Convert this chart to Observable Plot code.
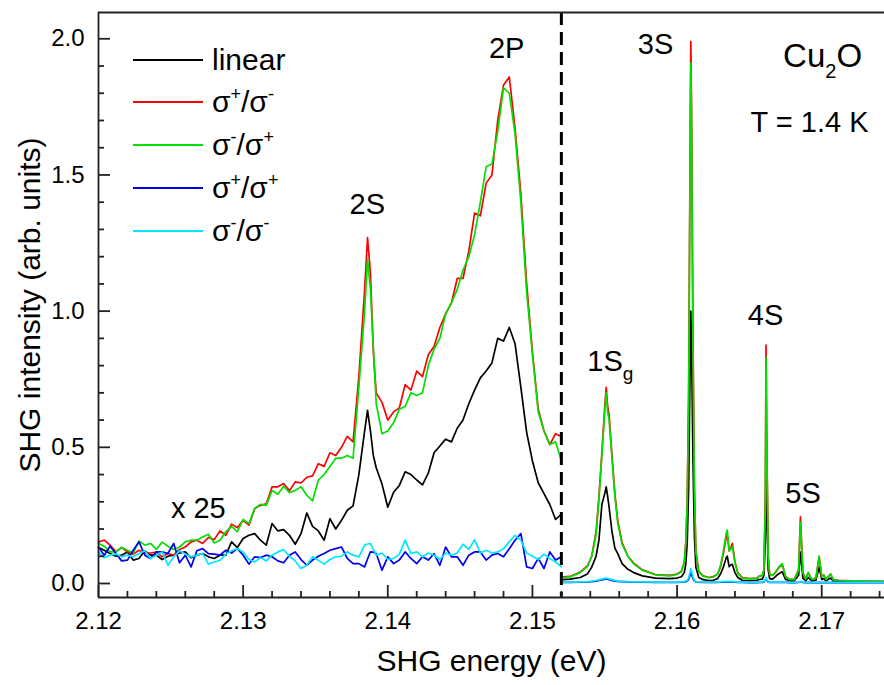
<!DOCTYPE html>
<html><head><meta charset="utf-8">
<script src="https://cdn.jsdelivr.net/npm/d3@7"></script>
<script src="https://cdn.jsdelivr.net/npm/@observablehq/plot@0.6"></script>
<style>
body{margin:0;background:#fff;}
#wrap{position:relative;width:884px;height:685px;font-family:"Liberation Sans",Arial,sans-serif;}
.row{position:absolute;left:133px;height:30px;width:200px;}
.row .ln{position:absolute;left:0;top:14px;width:70px;height:0;border-top:2px solid;}
.row .lb{position:absolute;left:79px;top:0;font-size:30px;line-height:30px;white-space:nowrap;color:#000;}
.row .sp{font-size:18px;position:relative;top:-12px;}
</style></head><body><div id="wrap"></div>
<script>
// ---- series definitions ----
const seriesNames = ["linear", "σ+/σ-", "σ-/σ+", "σ+/σ+", "σ-/σ-"];
const seriesColors = ["#000000", "#ff0000", "#00e000", "#0000ee", "#00e8ff"];

// ---- left part (x 25), energies in eV ----
const leftEnergy = [
 2.1200,2.1204,2.1208,2.1212,2.1216,2.1220,2.1224,2.1228,2.1232,2.1236,
 2.1240,2.1244,2.1248,2.1252,2.1256,2.1260,2.1264,2.1268,2.1272,2.1276,
 2.1280,2.1284,2.1288,2.1292,2.1296,2.1300,2.1304,2.1308,2.1312,2.1316,
 2.1320,2.1324,2.1328,2.1332,2.1336,2.1340,2.1344,2.1348,2.1352,2.1356,
 2.1360,2.1364,2.1368,2.1372,2.1376,2.1380,2.1384,
 2.1386,2.1388,2.1390,
 2.1392,2.1396,2.1400,2.1404,2.1408,2.1412,2.1416,2.1420,2.1424,2.1428,
 2.1432,2.1436,2.1440,2.1444,2.1448,2.1452,2.1456,2.1460,2.1464,2.1468,
 2.1472,2.1476,2.1480,2.1484,2.1488,2.1492,2.1496,2.1500,2.1504,2.1508,
 2.1512,2.1516,2.1520];
const leftLinear = [
 0.132,0.122,0.110,0.100,0.104,0.116,0.086,0.092,0.120,0.104,
 0.104,0.088,0.100,0.104,0.112,0.116,0.095,0.104,0.110,0.098,
 0.092,0.104,0.104,0.153,0.132,0.165,0.177,0.183,0.159,0.141,
 0.220,0.193,0.198,0.177,0.144,0.183,0.259,0.210,0.193,0.159,
 0.238,0.200,0.232,0.269,0.285,0.400,0.560,
 0.636,0.560,0.470,
 0.425,0.365,0.280,0.335,0.360,0.410,0.400,0.380,0.362,0.405,
 0.480,0.505,0.530,0.520,0.570,0.600,0.660,0.710,0.755,0.780,
 0.810,0.900,0.890,0.940,0.880,0.720,0.555,0.450,0.370,0.330,
 0.290,0.235,0.255];
const leftSpSm = [
 0.153,0.159,0.141,0.116,0.132,0.116,0.108,0.122,0.112,0.112,
 0.115,0.098,0.110,0.104,0.125,0.134,0.153,0.159,0.147,0.169,
 0.161,0.193,0.177,0.218,0.205,0.232,0.214,0.275,0.287,0.293,
 0.355,0.355,0.367,0.340,0.373,0.369,0.390,0.395,0.440,0.430,
 0.480,0.470,0.500,0.540,0.520,0.760,1.080,
 1.270,1.140,0.850,
 0.700,0.665,0.600,0.630,0.645,0.730,0.710,0.780,0.760,0.840,
 0.870,0.940,0.990,1.030,1.120,1.120,1.220,1.360,1.350,1.470,
 1.500,1.700,1.830,1.860,1.670,1.430,1.100,0.850,0.640,0.560,
 0.510,0.550,0.540];
const leftSmSp = [
 0.147,0.137,0.116,0.116,0.132,0.122,0.112,0.156,0.141,0.147,
 0.125,0.152,0.137,0.125,0.134,0.153,0.159,0.159,0.171,0.181,
 0.149,0.159,0.190,0.210,0.190,0.235,0.220,0.275,0.291,0.287,
 0.342,0.328,0.357,0.333,0.342,0.355,0.324,0.303,0.380,0.400,
 0.430,0.460,0.460,0.470,0.460,0.720,1.000,
 1.190,1.080,0.870,
 0.660,0.550,0.560,0.590,0.640,0.650,0.700,0.690,0.700,0.800,
 0.860,0.900,0.990,1.030,1.080,1.150,1.200,1.280,1.400,1.530,
 1.540,1.660,1.820,1.800,1.650,1.400,1.070,0.840,0.630,0.560,
 0.510,0.520,0.450];
const leftSpSp = [
 0.134,0.104,0.137,0.110,0.083,0.086,0.122,0.153,0.104,0.092,
 0.116,0.116,0.110,0.147,0.076,0.104,0.061,0.120,0.128,0.110,
 0.108,0.104,0.122,0.112,0.128,0.104,0.071,0.098,0.095,0.104,
 0.098,0.083,0.076,0.104,0.116,0.088,0.067,0.086,0.100,0.110,
 0.122,0.128,0.134,0.092,0.073,0.073,0.061,
 0.090,0.116,0.115,
 0.110,0.049,0.098,0.073,0.086,0.116,0.092,0.073,0.098,0.086,
 0.110,0.067,0.134,0.098,0.098,0.067,0.104,0.116,0.116,0.086,
 0.104,0.110,0.098,0.128,0.159,0.183,0.061,0.055,0.092,0.055,
 0.116,0.086,0.098];
const leftSmSm = [
 0.116,0.095,0.104,0.108,0.098,0.104,0.098,0.110,0.120,0.092,
 0.104,0.116,0.067,0.098,0.120,0.108,0.098,0.104,0.110,0.071,
 0.079,0.085,0.108,0.120,0.128,0.116,0.088,0.079,0.095,0.083,
 0.104,0.116,0.125,0.100,0.083,0.055,0.067,0.098,0.085,0.071,
 0.088,0.098,0.100,0.116,0.104,0.098,0.141,
 0.145,0.147,0.125,
 0.104,0.112,0.088,0.092,0.108,0.159,0.110,0.116,0.098,0.112,
 0.104,0.088,0.112,0.104,0.112,0.144,0.125,0.161,0.112,0.122,
 0.112,0.116,0.128,0.153,0.177,0.159,0.112,0.100,0.088,0.108,
 0.092,0.079,0.061];

// ---- right part (x 1) ----
const rightEnergy = [
 2.1521,2.1526,2.1533,2.1538,2.1541,2.1544,2.1546,2.1548,2.1550,2.1551,
 2.1552,2.1553,2.1555,2.1557,2.1559,2.1562,2.1566,2.1570,2.1576,2.1585,
 2.1595,2.1600,2.1603,2.1605,2.1606,2.1607,2.1608,2.1609,2.16095,2.1610,
 2.1611,2.1612,2.1613,2.1615,2.1618,2.1622,2.1625,2.1628,2.1630,2.1632,
 2.1634,2.16347,2.1636,2.1637,2.16382,2.1640,2.1642,2.1645,2.1650,2.1655,
 2.1657,2.1659,2.1660,2.1661,2.16615,2.1662,2.1663,2.1664,2.1666,2.1668,
 2.1670,2.16727,2.1675,2.1678,2.1681,2.1684,2.16853,2.1687,2.1689,2.16907,
 2.1693,2.1696,2.16982,2.1700,2.17015,2.1703,2.17061,2.1708,2.1712,2.1720,
 2.1730,2.1743];
const rightLinear = [
 0.014,0.016,0.022,0.035,0.060,0.100,0.160,0.290,0.330,0.355,
 0.320,0.280,0.190,0.130,0.110,0.073,0.052,0.040,0.028,0.020,
 0.018,0.020,0.025,0.040,0.070,0.150,0.350,0.800,1.000,0.880,
 0.450,0.170,0.060,0.022,0.014,0.011,0.012,0.018,0.035,0.060,
 0.095,0.100,0.062,0.068,0.070,0.040,0.022,0.012,0.010,0.012,
 0.015,0.016,0.030,0.150,0.435,0.280,0.050,0.018,0.016,0.025,
 0.035,0.043,0.015,0.010,0.010,0.030,0.115,0.020,0.010,0.022,
 0.010,0.012,0.060,0.015,0.018,0.010,0.020,0.009,0.008,0.007,
 0.006,0.006];
const rightSpSm = [
 0.024,0.026,0.042,0.065,0.100,0.190,0.320,0.480,0.650,0.720,
 0.650,0.620,0.470,0.330,0.230,0.150,0.100,0.075,0.050,0.033,
 0.030,0.035,0.045,0.080,0.150,0.300,0.700,1.600,1.990,1.750,
 0.900,0.350,0.120,0.045,0.028,0.022,0.025,0.035,0.060,0.110,
 0.170,0.180,0.120,0.130,0.147,0.080,0.040,0.022,0.018,0.020,
 0.028,0.030,0.050,0.300,0.875,0.550,0.100,0.035,0.030,0.040,
 0.055,0.070,0.025,0.015,0.015,0.050,0.245,0.040,0.018,0.040,
 0.015,0.020,0.100,0.025,0.032,0.015,0.035,0.014,0.012,0.010,
 0.009,0.008];
const rightSmSp = [
 0.022,0.024,0.040,0.062,0.100,0.180,0.310,0.470,0.630,0.700,
 0.630,0.600,0.460,0.320,0.220,0.145,0.100,0.072,0.048,0.032,
 0.028,0.033,0.043,0.078,0.145,0.290,0.680,1.550,1.910,1.700,
 0.870,0.340,0.115,0.043,0.027,0.021,0.024,0.035,0.065,0.120,
 0.185,0.196,0.120,0.125,0.135,0.075,0.037,0.020,0.017,0.019,
 0.027,0.030,0.050,0.290,0.830,0.520,0.095,0.033,0.030,0.042,
 0.058,0.073,0.025,0.014,0.014,0.048,0.225,0.038,0.017,0.040,
 0.015,0.020,0.100,0.025,0.030,0.015,0.035,0.013,0.011,0.010,
 0.009,0.008];
const rightSpSp = [
 0.004,0.004,0.005,0.006,0.007,0.009,0.011,0.013,0.016,0.017,
 0.016,0.014,0.011,0.009,0.008,0.007,0.006,0.005,0.005,0.004,
 0.004,0.004,0.005,0.006,0.007,0.009,0.015,0.030,0.040,0.033,
 0.018,0.009,0.006,0.005,0.004,0.004,0.004,0.004,0.005,0.005,
 0.006,0.006,0.006,0.006,0.006,0.005,0.004,0.004,0.003,0.003,
 0.004,0.004,0.006,0.012,0.018,0.012,0.006,0.004,0.004,0.004,
 0.004,0.005,0.004,0.003,0.003,0.004,0.006,0.004,0.003,0.004,
 0.003,0.003,0.003,0.003,0.003,0.003,0.003,0.003,0.003,0.003,
 0.003,0.003];
const rightSmSm = [
 0.005,0.005,0.006,0.007,0.009,0.011,0.013,0.016,0.019,0.020,
 0.019,0.017,0.014,0.011,0.009,0.008,0.007,0.006,0.006,0.005,
 0.005,0.005,0.006,0.007,0.009,0.012,0.020,0.042,0.055,0.045,
 0.024,0.011,0.007,0.006,0.005,0.005,0.005,0.005,0.006,0.007,
 0.008,0.008,0.008,0.008,0.008,0.006,0.005,0.005,0.004,0.004,
 0.005,0.005,0.008,0.014,0.022,0.014,0.007,0.005,0.005,0.005,
 0.005,0.006,0.005,0.004,0.004,0.005,0.007,0.005,0.004,0.005,
 0.004,0.004,0.004,0.004,0.004,0.004,0.004,0.004,0.004,0.004,
 0.004,0.004];

// ---- axes / ticks ----
const xDomain = [2.12, 2.17434];
const yDomain = [-0.0514, 2.0965];
const dividerEnergy = 2.152;
const xMajorTicks = [2.12, 2.13, 2.14, 2.15, 2.16, 2.17];
const xMinorTicks = [2.122,2.124,2.126,2.128,2.132,2.134,2.136,2.138,2.142,2.144,2.146,2.148,
  2.152,2.154,2.156,2.158,2.162,2.164,2.166,2.168,2.172,2.174];
const yMajorTicks = [0.0, 0.5, 1.0, 1.5, 2.0];
const yMinorTicks = [0.1,0.2,0.3,0.4,0.6,0.7,0.8,0.9,1.1,1.2,1.3,1.4,1.6,1.7,1.8,1.9];

// ---- annotations ----
const peakLabels = ["2S", "2P", "3S", "4S", "5S"];
const peakLabelX = [2.13858, 2.14822, 2.15851, 2.16612, 2.16871];
const peakLabelY = [1.389, 1.963, 1.979, 0.985, 0.328];

// ---- build table ----
const leftSets = [leftLinear, leftSpSm, leftSmSp, leftSpSp, leftSmSm];
const rightSets = [rightLinear, rightSpSm, rightSmSp, rightSpSp, rightSmSm];
const rows = [];
seriesNames.forEach((name, k) => {
  if (leftSets[k].length !== leftEnergy.length) throw new Error("left length mismatch " + name + " " + leftSets[k].length);
  if (rightSets[k].length !== rightEnergy.length) throw new Error("right length mismatch " + name + " " + rightSets[k].length);
  leftEnergy.forEach((e, i) => rows.push({energy: e, value: leftSets[k][i], series: name, part: "left"}));
  rightEnergy.forEach((e, i) => rows.push({energy: e, value: rightSets[k][i], series: name, part: "right"}));
});

// layout
const W = 884, H = 685, mT = 12, mB = 88, mL = 98, mR = 0;
const frameH = H - mT - mB, frameW = W - mL - mR;
// tick lengths (12 px major, 6 px minor) expressed in data units of each axis
const yPerPx = (yDomain[1] - yDomain[0]) / frameH;
const xPerPx = (xDomain[1] - xDomain[0]) / frameW;
const axisColor = "#222";
const axisWidth = 1.8;

const plot = Plot.plot({
  width: W, height: H,
  marginTop: mT, marginBottom: mB, marginLeft: mL, marginRight: mR,
  x: {domain: xDomain},
  y: {domain: yDomain},
  color: {domain: seriesNames, range: seriesColors},
  style: {fontFamily: "'Liberation Sans', Arial, sans-serif", background: "#fff", color: "#000"},
  marks: [
    Plot.line(rows, {x: "energy", y: "value", z: d => d.series + "|" + d.part, stroke: "series", strokeWidth: 1.7}),
    Plot.ruleX([dividerEnergy], {stroke: "#000", strokeWidth: 3, strokeDasharray: "13,7"}),
    Plot.ruleX([xDomain[0]], {stroke: axisColor, strokeWidth: axisWidth}),
    Plot.ruleY([yDomain[0]], {stroke: axisColor, strokeWidth: axisWidth}),
    Plot.ruleY([yDomain[1]], {stroke: axisColor, strokeWidth: axisWidth}),
    // inward ticks
    Plot.ruleX(xMajorTicks, {x: d => d, y1: () => yDomain[0], y2: () => yDomain[0] + 12 * yPerPx, stroke: axisColor, strokeWidth: axisWidth}),
    Plot.ruleX(xMinorTicks, {x: d => d, y1: () => yDomain[0], y2: () => yDomain[0] + 6 * yPerPx, stroke: axisColor, strokeWidth: axisWidth}),
    Plot.ruleY(yMajorTicks, {y: d => d, x1: () => xDomain[0], x2: () => xDomain[0] + 12 * xPerPx, stroke: axisColor, strokeWidth: axisWidth}),
    Plot.ruleY(yMinorTicks, {y: d => d, x1: () => xDomain[0], x2: () => xDomain[0] + 6 * xPerPx, stroke: axisColor, strokeWidth: axisWidth}),
    Plot.axisX({ticks: xMajorTicks, tickSize: 0, tickPadding: 14, stroke: "none", fill: "#000", fontSize: 24, tickFormat: d => d.toFixed(2), label: null}),
    Plot.axisY({ticks: yMajorTicks, tickSize: 0, tickPadding: 14, stroke: "none", fill: "#000", fontSize: 24, tickFormat: d => d.toFixed(1), label: null}),
    Plot.text(["SHG energy (eV)"], {text: d => d, frameAnchor: "bottom", dy: 64, textAnchor: "middle", lineAnchor: "middle", fontSize: 30}),
    Plot.text(["SHG intensity (arb. units)"], {text: d => d, frameAnchor: "left", rotate: -90, dx: -68, textAnchor: "middle", lineAnchor: "middle", fontSize: 30}),
    Plot.text(peakLabels, {x: (d, i) => peakLabelX[i], y: (d, i) => peakLabelY[i], text: d => d, fontSize: 29}),
    Plot.text(["1Sg"], {x: [2.15379], y: [0.813], text: d => d, textAnchor: "start", fontSize: 29}),
    Plot.text(["x 25"], {x: [2.1269], y: [0.274], text: d => d, fontSize: 29}),
    Plot.text(["Cu2O"], {x: [2.17006], y: [1.937], text: d => d, fontSize: 33}),
    Plot.text(["T = 1.4 K"], {x: [2.16916], y: [1.691], text: d => d, fontSize: 29})
  ]
});

// sub/superscripts inside SVG text
function rich(t, parts) {
  while (t.firstChild) t.removeChild(t.firstChild);
  let shift = 0;
  for (const p of parts) {
    const ts = document.createElementNS("http://www.w3.org/2000/svg", "tspan");
    ts.textContent = p.text;
    const target = p.dy || 0;
    if (target !== shift) { ts.setAttribute("dy", target - shift); shift = target; }
    if (p.size) ts.setAttribute("font-size", p.size);
    t.appendChild(ts);
  }
}
plot.querySelectorAll("text").forEach(t => {
  if (t.textContent === "Cu2O") rich(t, [{text: "Cu"}, {text: "2", dy: 12, size: 20}, {text: "O", dy: 0}]);
  else if (t.textContent === "1Sg") rich(t, [{text: "1S"}, {text: "g", dy: 9, size: 19}]);
});

const wrap = document.getElementById("wrap");
wrap.appendChild(plot);

// legend
const legendTops = [60, 102, 145, 188, 231];
const legendHtml = [
  "linear",
  "σ<span class='sp'>+</span>/σ<span class='sp'>-</span>",
  "σ<span class='sp'>-</span>/σ<span class='sp'>+</span>",
  "σ<span class='sp'>+</span>/σ<span class='sp'>+</span>",
  "σ<span class='sp'>-</span>/σ<span class='sp'>-</span>"
];
seriesNames.forEach((name, i) => {
  const row = document.createElement("div");
  row.className = "row";
  row.style.top = (legendTops[i] - 15) + "px";
  row.innerHTML = `<div class="ln" style="border-color:${seriesColors[i]}"></div><div class="lb">${legendHtml[i]}</div>`;
  wrap.appendChild(row);
});
</script>
</body></html>
